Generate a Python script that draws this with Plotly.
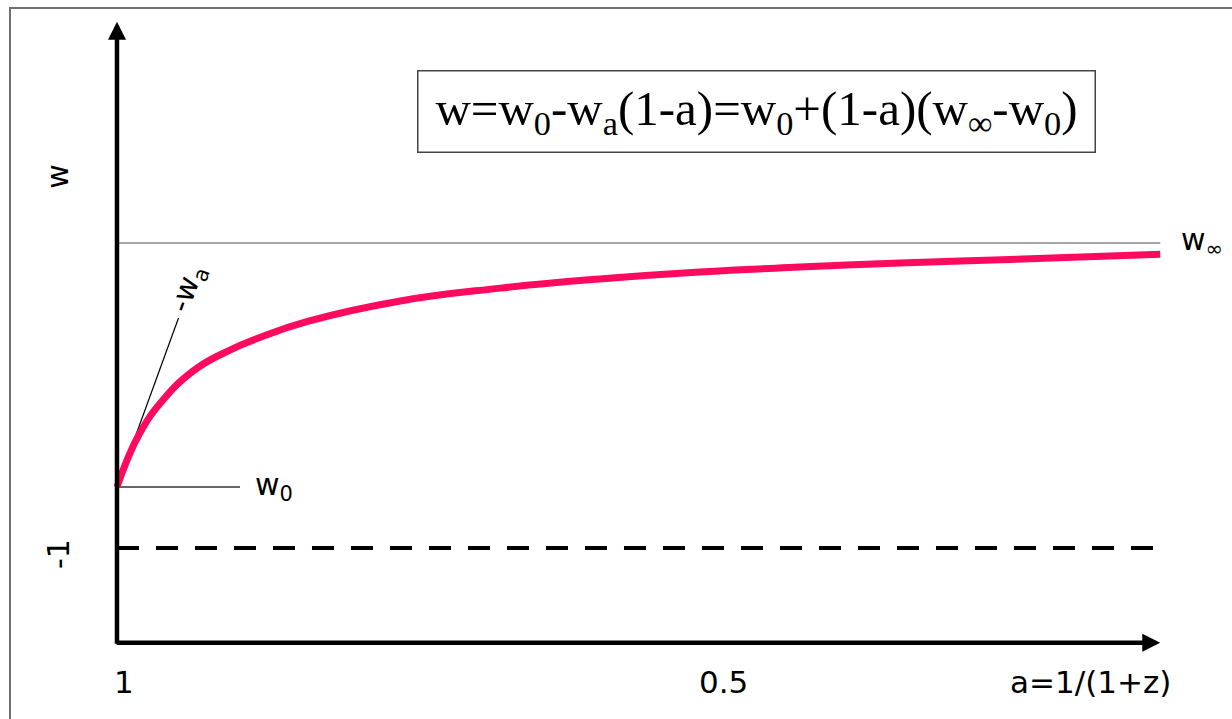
import plotly.graph_objects as go

# ---- data (read from the schematic) ----
a_curve = [1.000, 0.992, 0.981, 0.964, 0.937, 0.909, 0.881, 0.842, 0.765,
           0.682, 0.600, 0.517, 0.434, 0.351, 0.243, 0.135]
w_curve = [-0.800, -0.715, -0.623, -0.525, -0.420, -0.356, -0.309, -0.257, -0.190,
           -0.148, -0.118, -0.095, -0.079, -0.066, -0.052, -0.037]

w0 = -0.80
w_inf = 0.0
w_minus1 = -1.0
a_end = 0.135          # right end of the drawn lines
a_w0_end = 0.898       # end of the short w0 marker line
tangent_a = [1.000, 0.949]
tangent_w = [-0.800, -0.246]

x_tick_vals = [1.0, 0.503]
x_tick_text = ["1", "0.5"]

# axis frame (schematic axes)
x_axis_w = -1.311
y_axis_top = 0.725
x_axis_right = 0.135

# view ranges (a is reversed: 1 at left)
x_range = [1.097, 0.0755]
y_range = [-1.5607, 0.7967]

SANS = "DejaVu Sans"
SERIF = "Liberation Serif"
LBL = 30

fig = go.Figure()

# w_inf reference line (thin gray)
fig.add_trace(go.Scatter(x=[1.0, a_end], y=[w_inf, w_inf], mode="lines",
                         line=dict(color="#8a8a8a", width=1.5), hoverinfo="skip"))
# w = -1 dashed line
fig.add_trace(go.Scatter(x=[1.0, a_end], y=[w_minus1, w_minus1], mode="lines",
                         line=dict(color="black", width=4, dash="22px,17px"), hoverinfo="skip"))
# w0 short marker line
fig.add_trace(go.Scatter(x=[1.0, a_w0_end], y=[w0, w0], mode="lines",
                         line=dict(color="#333333", width=1.4), hoverinfo="skip"))
# tangent line (slope -w_a)
fig.add_trace(go.Scatter(x=tangent_a, y=tangent_w, mode="lines",
                         line=dict(color="black", width=1.2), hoverinfo="skip"))
# main curve
fig.add_trace(go.Scatter(x=a_curve, y=w_curve, mode="lines",
                         line=dict(color="#ff0a5f", width=7, shape="spline", smoothing=1.3),
                         hoverinfo="skip"))

annotations = []
# axes as arrows
annotations.append(dict(x=1.0, y=y_axis_top, ax=1.0, ay=x_axis_w - 0.008,
                        xref="x", yref="y", axref="x", ayref="y", text="",
                        showarrow=True, arrowhead=2, arrowwidth=4.5, arrowsize=0.8,
                        arrowcolor="black"))
annotations.append(dict(x=x_axis_right, y=x_axis_w, ax=1.0015, ay=x_axis_w,
                        xref="x", yref="y", axref="x", ayref="y", text="",
                        showarrow=True, arrowhead=2, arrowwidth=4.5, arrowsize=0.8,
                        arrowcolor="black"))

# tick labels
for v, t in zip(x_tick_vals, x_tick_text):
    annotations.append(dict(x=v - 0.006, y=-1.44, xref="x", yref="y", text=t,
                            showarrow=False, font=dict(family=SANS, size=31, color="black")))
annotations.append(dict(x=0.193, y=-1.44, xref="x", yref="y", text="a=1/(1+z)",
                        showarrow=False, font=dict(family=SANS, size=31, color="black")))

# y-axis labels (rotated)
annotations.append(dict(x=1.049, y=0.22, xref="x", yref="y", text="w", textangle=-90,
                        showarrow=False, font=dict(family=SANS, size=LBL, color="black")))
annotations.append(dict(x=1.049, y=-1.02, xref="x", yref="y", text="-1", textangle=-90,
                        showarrow=False, font=dict(family=SANS, size=LBL, color="black")))

# curve labels
annotations.append(dict(x=0.87, y=-0.80, xref="x", yref="y", text="w<sub>0</sub>",
                        showarrow=False, font=dict(family=SANS, size=LBL, color="black")))
annotations.append(dict(x=0.1, y=0.005, xref="x", yref="y", text="w<sub>∞</sub>",
                        showarrow=False, font=dict(family=SANS, size=LBL, color="black")))
annotations.append(dict(x=0.941, y=-0.150, xref="x", yref="y", text="-w<sub>a</sub>",
                        textangle=-70, showarrow=False,
                        font=dict(family=SANS, size=LBL, color="black")))

# formula box
annotations.append(dict(x=0.47, y=0.43, xref="x", yref="y",
                        text="w=w<sub>0</sub>-w<sub>a</sub>(1-a)=w<sub>0</sub>+(1-a)(w<sub>∞</sub>-w<sub>0</sub>)",
                        showarrow=False, font=dict(family=SERIF, size=49, color="black"),
                        bordercolor="#444444", borderwidth=1.5, borderpad=12, bgcolor="white",
                        width=652, height=56))

shapes = [
    # outer frame of the picture
    dict(type="rect", xref="paper", yref="paper", x0=10 / 1232, x1=1.02, y0=-0.02,
         y1=1 - 8 / 719, line=dict(color="#707070", width=2)),
]

fig.update_layout(
    width=1232, height=719,
    margin=dict(l=0, r=0, t=0, b=0),
    paper_bgcolor="white", plot_bgcolor="white",
    showlegend=False,
    xaxis=dict(range=x_range, visible=False, fixedrange=True),
    yaxis=dict(range=y_range, visible=False, fixedrange=True),
    annotations=annotations,
    shapes=shapes,
)

fig.write_html("out.html")
